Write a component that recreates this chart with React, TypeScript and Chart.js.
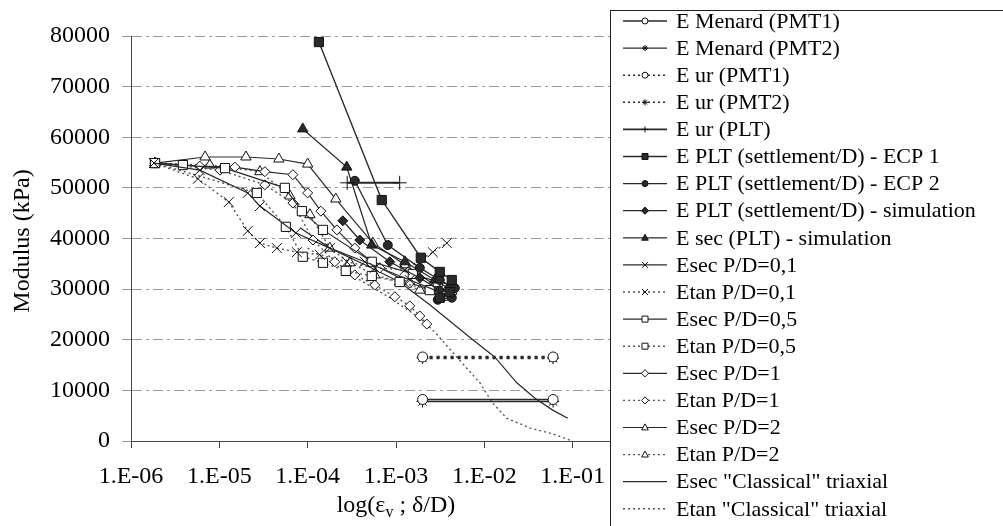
import React, { useEffect, useRef } from 'react';
import { Chart, registerables } from 'chart.js';

Chart.register(...registerables);

const FONT = '"Liberation Serif", "Times New Roman", serif';

// Axis ticks
const xTickValues = [1e-6, 1e-5, 1e-4, 1e-3, 1e-2, 1e-1, 1];
const xTickLabels = ['1.E-06', '1.E-05', '1.E-04', '1.E-03', '1.E-02', '1.E-01', '1.E+00'];
const yMin = 0;
const yMax = 80000;
const yStep = 10000;

type Pt = [number, number];

// Pressuremeter moduli (strain, kPa)
const menardPMT1: Pt[] = [[2.0e-3, 8200], [6.0e-2, 8200]];
const menardPMT2: Pt[] = [[2.0e-3, 7800], [6.0e-2, 7800]];
const eurPMT1: Pt[] = [[2.0e-3, 16600], [6.0e-2, 16600]];
const eurPMT2: Pt[] = [[2.0e-3, 16400], [6.0e-2, 16400]];

// Plate load tests
const eurPLT: Pt[] = [[2.8e-4, 51000], [1.1e-3, 51000]];
const ecp1: Pt[] = [[1.34e-4, 78800], [6.9e-4, 47600], [1.91e-3, 36200], [3.13e-3, 33400], [4.28e-3, 31800], [4.06e-3, 29400], [3.13e-3, 28300]];
const ecp2: Pt[] = [[3.42e-4, 51400], [8.07e-4, 38700], [1.86e-3, 34200], [3.13e-3, 31800], [4.63e-3, 30200], [4.28e-3, 28300], [2.97e-3, 27900]];
const pltSimulation: Pt[] = [[2.5e-4, 43500], [3.89e-4, 39700], [8.5e-4, 35400], [1.86e-3, 32200], [3.13e-3, 29800]];
const esecPltSimulation: Pt[] = [[8.8e-5, 61650], [2.77e-4, 54100], [5.32e-4, 38700], [1.26e-3, 35400], [2.75e-3, 31800], [4.06e-3, 30800]];

// Numerical moduli at several P/D
const esec01: Pt[] = [[1.82e-6, 54900], [6.0e-6, 53500], [2.1e-5, 49000], [2.88e-5, 46400], [7.36e-5, 41100], [1.78e-4, 38100], [4.44e-4, 35400], [1.43e-3, 31800], [3.13e-3, 29400]];
const etan01: Pt[] = [[1.82e-6, 54900], [5.73e-6, 51800], [1.28e-5, 47200], [2.1e-5, 41500], [2.88e-5, 39100], [4.48e-5, 38100], [7.55e-5, 37300], [1.37e-4, 36800], [2.77e-4, 35400], [5.75e-4, 34200], [1.26e-3, 33800], [2.61e-3, 37300], [3.76e-3, 39100]];
const esec05: Pt[] = [[1.87e-6, 54900], [3.87e-6, 54500], [1.16e-5, 53900], [5.52e-5, 50000], [8.6e-5, 45400], [1.49e-4, 41700], [5.32e-4, 35400], [1.55e-3, 33000], [2.97e-3, 31400], [4.28e-3, 29800]];
const etan05: Pt[] = [[1.87e-6, 54900], [2.66e-5, 49000], [5.66e-5, 42300], [8.8e-5, 36400], [1.49e-4, 35200], [2.7e-4, 33600], [5.32e-4, 32600], [1.1e-3, 31400], [2.41e-3, 29800], [3.56e-3, 28700]];
const esec1: Pt[] = [[1.87e-6, 54900], [6.0e-6, 54300], [1.5e-5, 54100], [3.28e-5, 53200], [6.8e-5, 52600], [1.0e-4, 49000], [1.41e-4, 45400], [2.14e-4, 41700], [3.42e-4, 38100], [6.56e-4, 34200], [1.43e-3, 31200], [3.13e-3, 29400]];
const etan1: Pt[] = [[1.87e-6, 54900], [1.02e-5, 53500], [3.28e-5, 50600], [6.8e-5, 47000], [1.15e-4, 39700], [2.03e-4, 35400], [3.42e-4, 32800], [5.75e-4, 30800], [9.7e-4, 28500], [1.43e-3, 26700], [1.86e-3, 24700], [2.23e-3, 23100]];
const esec2: Pt[] = [[1.87e-6, 54900], [6.9e-6, 56100], [2.0e-5, 56100], [4.72e-5, 55700], [1.0e-4, 54700], [2.08e-4, 47800], [5.47e-4, 39100], [1.26e-3, 34800], [2.75e-3, 30800], [4.06e-3, 29400]];
const etan2: Pt[] = [[1.87e-6, 54900], [7.8e-6, 54500], [2.88e-5, 53200], [6.3e-5, 48400], [1.06e-4, 44700], [1.78e-4, 38100], [3.0e-4, 35200], [5.75e-4, 32800], [1.1e-3, 31400], [1.86e-3, 29800], [3.56e-3, 28700]];

// Triaxial test curves
const esecClassical: Pt[] = [[8.2e-5, 42100], [1.78e-4, 38100], [4.44e-4, 34800], [1.1e-3, 31400], [2.41e-3, 26900], [7.4e-3, 20000], [1.31e-2, 16600], [2.33e-2, 11500], [3.72e-2, 8500], [5.94e-2, 6100], [8.8e-2, 4500]];
const etanClassical: Pt[] = [[1.0e-4, 38100], [3.0e-4, 33000], [8.5e-4, 28300], [1.86e-3, 24300], [2.75e-3, 21500], [4.87e-3, 16600], [8.9e-3, 11500], [1.24e-2, 7500], [1.79e-2, 4500], [3.26e-2, 2600], [5.94e-2, 1400], [9.25e-2, 200]];

type Marker = 'circle' | 'star' | 'cross' | 'crossRot' | 'rect' | 'rectRot' | 'triangle' | false;

interface SeriesDef {
  label: string;
  pts: Pt[];
  marker: Marker;
  filled: boolean;
  dash: number[];
  width: number;
  radius: number;
  color: string;
}

const SOLID = '#2a2a2a';
const DOT = '#555';

const series: SeriesDef[] = [
  { label: 'E Menard (PMT1)', pts: menardPMT1, marker: 'circle', filled: false, dash: [], width: 1.3, radius: 5, color: SOLID },
  { label: 'E Menard (PMT2)', pts: menardPMT2, marker: 'star', filled: false, dash: [], width: 1.3, radius: 6, color: SOLID },
  { label: 'E ur (PMT1)', pts: eurPMT1, marker: 'circle', filled: false, dash: [3, 4], width: 2.4, radius: 5, color: SOLID },
  { label: 'E ur (PMT2)', pts: eurPMT2, marker: 'star', filled: false, dash: [3, 4], width: 2.4, radius: 6, color: SOLID },
  { label: 'E ur (PLT)', pts: eurPLT, marker: 'cross', filled: false, dash: [], width: 2, radius: 7, color: SOLID },
  { label: 'E PLT (settlement/D) - ECP 1', pts: ecp1, marker: 'rect', filled: true, dash: [], width: 1.4, radius: 6.5, color: SOLID },
  { label: 'E PLT (settlement/D) - ECP 2', pts: ecp2, marker: 'circle', filled: true, dash: [], width: 1.3, radius: 4.5, color: SOLID },
  { label: 'E PLT (settlement/D) - simulation', pts: pltSimulation, marker: 'rectRot', filled: true, dash: [], width: 1.3, radius: 5, color: SOLID },
  { label: 'E sec (PLT) - simulation', pts: esecPltSimulation, marker: 'triangle', filled: true, dash: [], width: 1.3, radius: 6, color: SOLID },
  { label: 'Esec P/D=0,1', pts: esec01, marker: 'crossRot', filled: false, dash: [], width: 1.2, radius: 7, color: SOLID },
  { label: 'Etan P/D=0,1', pts: etan01, marker: 'crossRot', filled: false, dash: [2, 3], width: 1.4, radius: 7, color: DOT },
  { label: 'Esec P/D=0,5', pts: esec05, marker: 'rect', filled: false, dash: [], width: 1.2, radius: 6.5, color: SOLID },
  { label: 'Etan P/D=0,5', pts: etan05, marker: 'rect', filled: false, dash: [2, 3], width: 1.4, radius: 6.5, color: DOT },
  { label: 'Esec P/D=1', pts: esec1, marker: 'rectRot', filled: false, dash: [], width: 1.2, radius: 5, color: SOLID },
  { label: 'Etan P/D=1', pts: etan1, marker: 'rectRot', filled: false, dash: [2, 3], width: 1.4, radius: 5, color: DOT },
  { label: 'Esec P/D=2', pts: esec2, marker: 'triangle', filled: false, dash: [], width: 1.2, radius: 6, color: SOLID },
  { label: 'Etan P/D=2', pts: etan2, marker: 'triangle', filled: false, dash: [2, 3], width: 1.4, radius: 6, color: DOT },
  { label: 'Esec "Classical" triaxial', pts: esecClassical, marker: false, filled: false, dash: [], width: 1.2, radius: 0, color: SOLID },
  { label: 'Etan "Classical" triaxial', pts: etanClassical, marker: false, filled: false, dash: [2, 3], width: 1.4, radius: 0, color: DOT },
];

// Layout of the boxed legend on the right
const LEGEND = { left: 610, top: 10, firstRow: 21, rowStep: 27.1, lineFrom: 623, lineTo: 667, textX: 676, font: 22 };

function drawMarker(ctx: CanvasRenderingContext2D, m: Marker, x: number, y: number, r: number, filled: boolean, color: string) {
  if (!m) return;
  ctx.save();
  ctx.setLineDash([]);
  ctx.lineWidth = 1;
  ctx.strokeStyle = '#111';
  ctx.fillStyle = filled ? color : '#fff';
  ctx.beginPath();
  let closed = true;
  switch (m) {
    case 'circle':
      ctx.arc(x, y, r, 0, Math.PI * 2);
      break;
    case 'rect':
      ctx.rect(x - r, y - r, 2 * r, 2 * r);
      break;
    case 'rectRot':
      ctx.moveTo(x, y - r * 1.2); ctx.lineTo(x + r * 1.2, y); ctx.lineTo(x, y + r * 1.2); ctx.lineTo(x - r * 1.2, y); ctx.closePath();
      break;
    case 'triangle':
      ctx.moveTo(x, y - r * 1.2); ctx.lineTo(x + r * 1.1, y + r * 0.8); ctx.lineTo(x - r * 1.1, y + r * 0.8); ctx.closePath();
      break;
    case 'cross':
      closed = false;
      ctx.moveTo(x - r, y); ctx.lineTo(x + r, y); ctx.moveTo(x, y - r); ctx.lineTo(x, y + r);
      break;
    case 'crossRot':
      closed = false;
      ctx.moveTo(x - r, y - r); ctx.lineTo(x + r, y + r); ctx.moveTo(x + r, y - r); ctx.lineTo(x - r, y + r);
      break;
    case 'star':
      closed = false;
      ctx.moveTo(x - r, y); ctx.lineTo(x + r, y); ctx.moveTo(x, y - r); ctx.lineTo(x, y + r);
      ctx.moveTo(x - r * 0.7, y - r * 0.7); ctx.lineTo(x + r * 0.7, y + r * 0.7);
      ctx.moveTo(x + r * 0.7, y - r * 0.7); ctx.lineTo(x - r * 0.7, y + r * 0.7);
      break;
  }
  if (closed) ctx.fill();
  ctx.stroke();
  ctx.restore();
}

const axisTitles = {
  id: 'axisTitles',
  afterDraw(chart: any) {
    const ctx: CanvasRenderingContext2D = chart.ctx;
    ctx.save();
    ctx.fillStyle = '#000';
    ctx.font = `24px ${FONT}`;
    ctx.textAlign = 'center';
    ctx.textBaseline = 'middle';
    ctx.translate(23, 241);
    ctx.rotate(-Math.PI / 2);
    ctx.fillText('Modulus (kPa)', 0, 0);
    ctx.restore();

    // x title with subscript v
    ctx.save();
    ctx.fillStyle = '#000';
    ctx.textBaseline = 'alphabetic';
    ctx.textAlign = 'left';
    const big = `24px ${FONT}`;
    const small = `16px ${FONT}`;
    const parts: [string, string, number][] = [
      ['log(\u03b5', big, 0],
      ['v', small, 5],
      [' ; \u03b4/D)', big, 0],
    ];
    let total = 0;
    parts.forEach(([t, f]) => { ctx.font = f; total += ctx.measureText(t).width; });
    let x = 396 - total / 2;
    const base = 512;
    parts.forEach(([t, f, dy]) => {
      ctx.font = f;
      ctx.fillText(t, x, base + dy);
      x += ctx.measureText(t).width;
    });
    ctx.restore();
  },
};

const boxLegend = {
  id: 'boxLegend',
  afterDraw(chart: any) {
    const ctx: CanvasRenderingContext2D = chart.ctx;
    ctx.save();
    ctx.fillStyle = '#fff';
    ctx.fillRect(LEGEND.left, LEGEND.top, 600, 600);
    ctx.strokeStyle = '#222';
    ctx.lineWidth = 1;
    ctx.strokeRect(LEGEND.left + 0.5, LEGEND.top + 0.5, 600, 600);
    ctx.font = `${LEGEND.font}px ${FONT}`;
    ctx.textAlign = 'left';
    ctx.textBaseline = 'middle';
    series.forEach((s, i) => {
      const y = LEGEND.firstRow + i * LEGEND.rowStep;
      ctx.save();
      ctx.strokeStyle = s.color;
      ctx.lineWidth = Math.min(s.width, 1.6);
      ctx.setLineDash(s.dash.length ? [2, 3] : []);
      ctx.beginPath();
      ctx.moveTo(LEGEND.lineFrom, y);
      ctx.lineTo(LEGEND.lineTo, y);
      ctx.stroke();
      ctx.restore();
      drawMarker(ctx, s.marker, (LEGEND.lineFrom + LEGEND.lineTo) / 2, y, 3, s.filled, s.color);
      ctx.fillStyle = '#000';
      ctx.fillText(s.label, LEGEND.textX, y + 1);
    });
    ctx.restore();
  },
};

export default function App() {
  const ref = useRef<HTMLCanvasElement | null>(null);

  useEffect(() => {
    if (!ref.current) return;
    const chart = new Chart(ref.current, {
      type: 'line',
      data: {
        datasets: series.map((s) => ({
          label: s.label,
          data: s.pts.map(([x, y]) => ({ x, y })),
          borderColor: s.color,
          borderWidth: s.width,
          borderDash: s.dash,
          pointStyle: s.marker === false ? false : s.marker,
          pointRadius: s.radius,
          pointBorderColor: '#111',
          pointBorderWidth: 1,
          pointBackgroundColor: s.filled ? s.color : '#fff',
          fill: false,
          tension: 0,
        })),
      },
      options: {
        animation: false,
        responsive: false,
        devicePixelRatio: 1,
        layout: { padding: { left: 0, right: 1003 - 661, top: 36, bottom: 0 } },
        plugins: { legend: { display: false }, tooltip: { enabled: false } },
        scales: {
          x: {
            type: 'logarithmic',
            min: xTickValues[0],
            max: xTickValues[xTickValues.length - 1],
            afterBuildTicks: (scale: any) => {
              scale.ticks = xTickValues.map((v) => ({ value: v }));
            },
            afterFit: (scale: any) => { scale.height = 85; },
            ticks: {
              autoSkip: false,
              maxRotation: 0,
              padding: 14,
              color: '#000',
              font: { family: FONT, size: 24 },
              callback: (_v: any, i: number) => xTickLabels[i],
            },
            grid: { display: true, drawOnChartArea: false, drawTicks: true, tickLength: 7, color: '#444' },
            border: { display: true, color: '#444', width: 1 },
          },
          y: {
            type: 'linear',
            min: yMin,
            max: yMax,
            afterFit: (scale: any) => { scale.width = 131; },
            ticks: {
              stepSize: yStep,
              padding: 12,
              color: '#000',
              font: { family: FONT, size: 24 },
              callback: (v: any) => String(v),
            },
            grid: { color: '#9a9a9a', lineWidth: 1, tickLength: 9 },
            border: { display: true, color: '#444', width: 1, dash: [10, 4, 3, 4] },
          },
        },
      },
      plugins: [axisTitles, boxLegend],
    });
    return () => chart.destroy();
  }, []);

  return (
    <div style={{ position: 'absolute', left: 0, top: 0, width: 1003, height: 526, background: '#fff' }}>
      <canvas ref={ref} width={1003} height={526} style={{ display: 'block' }} />
    </div>
  );
}
